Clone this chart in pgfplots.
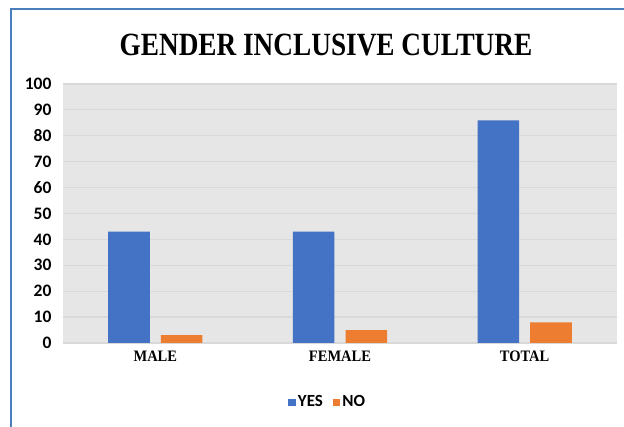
\documentclass[border=0pt]{standalone}
\usepackage{fontspec}
\setmainfont{Liberation Serif}
\setsansfont{Carlito}
\usepackage{pgfplots}
\pgfplotsset{compat=1.18}
\definecolor{yesblue}{HTML}{4472C4}
\definecolor{noorange}{HTML}{ED7D31}
\definecolor{plotbg}{HTML}{E6E6E6}
\definecolor{gridgray}{HTML}{D9D9D9}
\definecolor{frameblue}{HTML}{4A7EBB}
\pgfplotsset{sqlegend/.style={legend image code/.code={\fill[##1] (0pt,-4pt) rectangle (7.5pt,3.5pt);}}}
\begin{document}
\begin{tikzpicture}[x=1pt,y=1pt]
\useasboundingbox (0,0) rectangle (624,427);
\draw[color=frameblue, line width=2pt] (11,0) -- (11,418) -- (624,418);
\node[font=\fontsize{27}{30}\selectfont\bfseries\rmfamily] at (326,382) {\scalebox{1.01}[1.2]{GENDER INCLUSIVE CULTURE}};
\begin{axis}[
  at={(63pt,84pt)}, anchor=south west,
  width=554pt, height=259pt, scale only axis,
  xmin=-0.5, xmax=2.5, ymin=0, ymax=100,
  xtick={0,1,2}, xticklabels={MALE,FEMALE,TOTAL},
  ytick={0,10,...,100},
  /pgf/number format/assume math mode=true,
  axis background/.style={fill=plotbg},
  ymajorgrids, grid style={gridgray, line width=1.2pt},
  axis line style={draw=none},
  major tick length=0pt,
  x tick label style={font=\fontsize{14.5}{17}\selectfont\bfseries\rmfamily, yshift=-4.5pt, yscale=1.1},
  y tick label style={font=\fontsize{17.5}{20}\selectfont\bfseries\sffamily, xshift=-8pt},
  legend style={at={(0.478,-0.228)}, anchor=center, draw=none, fill=none,
    font=\fontsize{17}{20}\selectfont\bfseries\sffamily,
    /tikz/every even column/.append style={column sep=8pt}},
  legend columns=2,
]
\addplot[ybar, fill=yesblue, draw=none, bar width=0.225, bar shift=-0.1425, sqlegend]
  coordinates {(0,43) (1,43) (2,86)};
\addlegendentry{YES}
\addplot[ybar, fill=noorange, draw=none, bar width=0.225, bar shift=0.1425, sqlegend]
  coordinates {(0,3) (1,5) (2,8)};
\addlegendentry{NO}
\end{axis}
\end{tikzpicture}
\end{document}
